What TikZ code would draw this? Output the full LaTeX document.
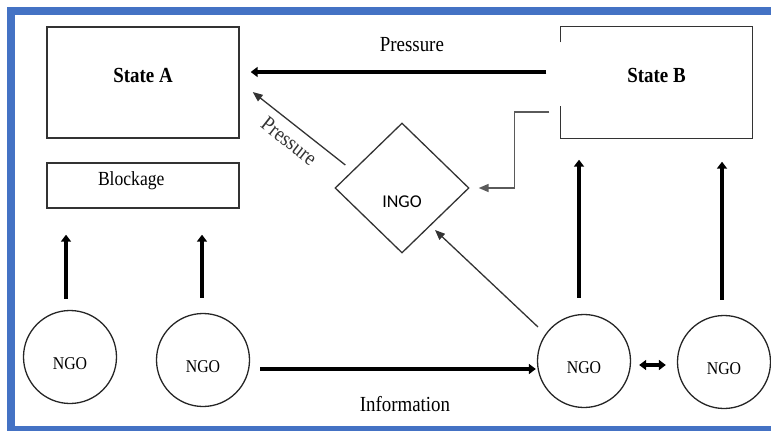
\documentclass[tikz,border=0pt]{standalone}
\usepackage{fontspec}
\setmainfont[FakeStretch=0.88]{Liberation Serif}
\newfontfamily\ingofont{Carlito}
\usetikzlibrary{shapes.geometric, arrows.meta, positioning}
\definecolor{frameBlue}{HTML}{4472C4}
\definecolor{lineDark}{HTML}{333333}
\definecolor{lineGrey}{HTML}{5a5a5a}

\begin{document}
\begin{tikzpicture}[x=1pt, y=-1pt,
        box/.style={draw=lineDark, line width=1.4pt, minimum width=192pt, inner sep=0pt},
        statebox/.style={box, minimum height=111pt, font=\bfseries\fontsize{21.5}{24}\selectfont,
                         text height=14pt, text depth=14pt},
        ngo/.style={circle, draw=black!85, line width=1.3pt, minimum size=93pt, inner sep=0pt,
                    font=\fontsize{18}{20}\selectfont, text height=24pt, text depth=0pt},
        ingo/.style={diamond, draw=lineDark, line width=1.3pt, minimum width=134pt, minimum height=130pt,
                     inner sep=0pt, font=\ingofont\fontsize{18}{20}\selectfont, text height=38pt, text depth=0pt},
        lbl/.style={font=\fontsize{21.5}{24}\selectfont},
        fat/.style={line width=4pt, -{Triangle[width=10pt,length=7pt]}},
        both/.style={line width=4pt, {Triangle[width=10pt,length=7pt]}-{Triangle[width=10pt,length=7pt]}},
        fine/.style={lineDark, line width=1.3pt, -{Triangle[width=8pt,length=10pt]}},
        elbow/.style={lineGrey, line width=1.5pt, -{Triangle[width=8pt,length=10pt]}}]
        \clip (0,0) rectangle (771,431);
        \draw[frameBlue, line width=8pt] (11,11) rectangle (780,430);

        \node[statebox] (stateA) at (143,82.5) {State A};
        \node[box, minimum height=45pt, font=\fontsize{20}{22}\selectfont, text width=90pt, align=left,
              text height=13pt, text depth=13pt] (blockage) at (143,185.5) {Blockage};
        \node[statebox, draw=none, minimum width=191pt] (stateB) at (656.5,82.5) {State B};
        \node[ingo] (ingo) at (402,188) {INGO};
        \node[ngo] (ngo1) at (70,357) {NGO};
        \node[ngo] (ngo2) at (203,360) {NGO};
        \node[ngo] (ngo3) at (584,361) {NGO};
        \node[ngo] (ngo4) at (724,362) {NGO};

        % State B, open on the left where the arrows leave
        \draw[lineDark, line width=1.4pt] ([yshift=-16pt]stateB.north west) -- (stateB.north west)
          -- (stateB.north east) -- (stateB.south east) -- (stateB.south west) -- ([yshift=33pt]stateB.south west);

        \draw[fat, shorten <=14pt, shorten >=11pt] ([yshift=10.5pt]stateB.west)
          -- node[lbl, pos=0.463, yshift=27.5pt] {Pressure} ([yshift=10.5pt]stateA.east);
        \draw[fine] ([xshift=11pt,yshift=23pt]ingo.west)
          -- node[lbl, sloped, below=5pt, pos=0.5] {Pressure} ([xshift=13pt,yshift=-9.5pt]stateA.east);
        \draw[elbow, shorten >=9pt] ([xshift=-11pt,yshift=-29.5pt]stateB.west) -| ([xshift=45pt]ingo.east) -- (ingo.east);
        \draw[fine] ([xshift=-46pt,yshift=34pt]ngo3.center) -- ([xshift=33pt,yshift=-42pt]ingo.center);

        \foreach \s/\t/\dx/\a/\b in {ngo1/blockage/-4pt/11pt/26pt, ngo2/blockage/-1pt/15pt/26pt,
                                     ngo3/stateB/-5pt/16pt/21pt, ngo4/stateB/-2pt/15pt/23pt}
          \draw[fat, shorten <=\a, shorten >=\b] ([xshift=\dx]\s.north) -- ([xshift=\dx]\s.north |- \t.south);

        \draw[fat, shorten <=10pt, shorten >=1pt] ([yshift=-9pt]ngo2.east)
          -- node[lbl, pos=0.54, yshift=-35pt] {Information} ([yshift=-9pt]ngo2.east -| ngo3.west);
        \draw[both, shorten <=8pt, shorten >=11pt] ([yshift=-4pt]ngo3.east) -- ([yshift=-4pt]ngo3.east -| ngo4.west);
      \end{tikzpicture}
\end{document}
